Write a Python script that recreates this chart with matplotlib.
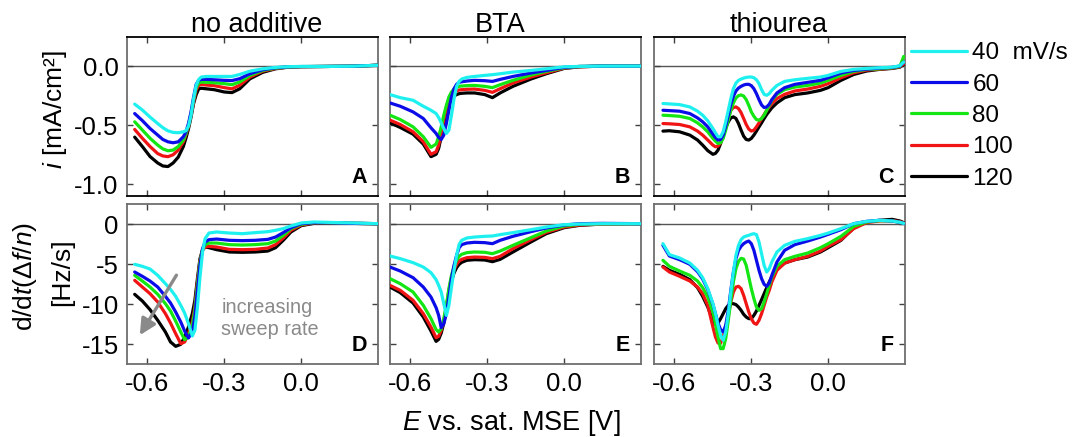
import matplotlib
matplotlib.use("Agg")
import matplotlib.pyplot as plt

plt.rcParams['font.family'] = ['Liberation Sans', 'DejaVu Sans']
plt.rcParams['axes.unicode_minus'] = False
plt.rcParams['mathtext.fontset'] = 'custom'
plt.rcParams['mathtext.rm'] = 'Liberation Sans'
plt.rcParams['mathtext.it'] = 'Liberation Sans:italic'

# ---------------- data ----------------
rates = [40, 60, 80, 100, 120]
rate_labels = ["40  mV/s", "60", "80", "100", "120"]
colors = ["#1ef0f0", "#0c0ce8", "#14e614", "#f01414", "#000000"]
titles = ["no additive", "BTA", "thiourea"]
letters_top = ["A", "B", "C"]
letters_bot = ["D", "E", "F"]

# Panel A / D : no additive
E_A = [-0.65, -0.62, -0.59, -0.56, -0.54, -0.52, -0.50, -0.48, -0.46, -0.45, -0.44, -0.43, -0.42, -0.41,
       -0.40, -0.39, -0.37, -0.34, -0.30, -0.27, -0.24, -0.20, -0.15, -0.10, -0.05, 0.0, 0.1, 0.2, 0.3]
iA_40 = [-0.32, -0.37, -0.43, -0.485, -0.52, -0.547, -0.56, -0.563, -0.555, -0.546, -0.507, -0.414, -0.273, -0.16,
         -0.11, -0.09, -0.085, -0.085, -0.085, -0.085, -0.068, -0.04, -0.02, -0.008, -0.002, 0.0, 0.0, 0.002, 0.01]
iA_60 = [-0.40, -0.46, -0.527, -0.583, -0.62, -0.64, -0.648, -0.64, -0.597, -0.555, -0.485, -0.386, -0.26, -0.152,
         -0.118, -0.11, -0.11, -0.113, -0.118, -0.12, -0.104, -0.062, -0.028, -0.011, -0.003, -0.001, 0.0, 0.002, 0.01]
iA_80 = [-0.47, -0.54, -0.61, -0.668, -0.70, -0.716, -0.71, -0.68, -0.625, -0.57, -0.50, -0.40, -0.28, -0.18,
         -0.14, -0.132, -0.135, -0.138, -0.146, -0.155, -0.132, -0.076, -0.034, -0.014, -0.004, -0.001, 0.0, 0.002, 0.01]
iA_100 = [-0.535, -0.61, -0.68, -0.74, -0.76, -0.766, -0.75, -0.71, -0.64, -0.58, -0.51, -0.41, -0.30, -0.20,
          -0.16, -0.152, -0.158, -0.163, -0.18, -0.19, -0.16, -0.09, -0.04, -0.017, -0.005, -0.002, 0.0, 0.002, 0.01]
iA_120 = [-0.60, -0.68, -0.765, -0.82, -0.845, -0.85, -0.82, -0.77, -0.68, -0.61, -0.53, -0.43, -0.315, -0.24,
          -0.19, -0.185, -0.19, -0.197, -0.217, -0.222, -0.19, -0.105, -0.05, -0.02, -0.006, -0.002, 0.0, 0.002, 0.01]

E_D = [-0.65, -0.62, -0.59, -0.56, -0.53, -0.51, -0.49, -0.47, -0.455, -0.44, -0.425, -0.415, -0.405, -0.395,
       -0.385, -0.375, -0.36, -0.33, -0.28, -0.23, -0.18, -0.13, -0.10, -0.07, -0.04, 0.0, 0.05, 0.1, 0.2, 0.3]
fD_40 = [-5.04, -5.29, -5.63, -6.42, -7.46, -8.17, -9.04, -10.17, -11.13, -12.46, -14.0, -13.29, -10.38, -6.63,
         -3.5, -1.83, -1.13, -1.0, -1.13, -1.21, -1.08, -0.96, -0.79, -0.58, -0.25, 0.13, 0.25, 0.21, 0.13, 0.04]
fD_60 = [-6.0, -6.54, -7.13, -7.88, -9.04, -9.88, -11.0, -12.25, -13.38, -14.25, -13.5, -11.63, -8.29, -5.17,
         -3.08, -2.25, -1.96, -1.88, -2.04, -2.08, -2.04, -1.92, -1.63, -1.08, -0.46, 0.04, 0.17, 0.17, 0.08, 0.04]
fD_80 = [-6.42, -7.13, -7.88, -8.79, -9.96, -10.88, -12.13, -13.5, -14.46, -14.13, -12.67, -10.79, -7.67, -4.75,
         -3.21, -2.58, -2.38, -2.38, -2.58, -2.63, -2.58, -2.46, -2.13, -1.42, -0.58, -0.04, 0.17, 0.17, 0.08, 0.04]
fD_100 = [-7.04, -7.88, -8.71, -9.75, -11.21, -12.38, -13.71, -14.96, -14.75, -13.71, -12.25, -10.38, -7.25, -4.54,
          -3.29, -2.88, -2.79, -2.88, -3.17, -3.21, -3.17, -3.0, -2.58, -1.75, -0.79, -0.13, 0.13, 0.17, 0.08, 0.04]
fD_120 = [-8.79, -9.63, -10.71, -12.04, -13.5, -14.75, -15.29, -15.04, -14.13, -12.88, -11.21, -9.54, -6.83, -4.33,
          -3.21, -2.88, -2.96, -3.21, -3.5, -3.54, -3.5, -3.38, -2.96, -2.04, -1.0, -0.21, 0.08, 0.17, 0.08, 0.04]

# Panel B / E : BTA
E_B = [-0.68, -0.64, -0.59, -0.55, -0.52, -0.50, -0.49, -0.48, -0.47, -0.46, -0.45, -0.44, -0.43, -0.42,
       -0.41, -0.40, -0.38, -0.35, -0.31, -0.28, -0.25, -0.20, -0.13, -0.07, 0.0, 0.06, 0.15, 0.3]
iB_40 = [-0.239, -0.265, -0.287, -0.338, -0.372, -0.40, -0.434, -0.479, -0.527, -0.569, -0.541, -0.414, -0.273, -0.169,
         -0.127, -0.107, -0.093, -0.085, -0.076, -0.07, -0.062, -0.048, -0.034, -0.02, -0.003, 0.0, 0.003, 0.003]
iB_60 = [-0.31, -0.338, -0.386, -0.442, -0.521, -0.569, -0.603, -0.62, -0.583, -0.485, -0.372, -0.259, -0.189, -0.152,
         -0.135, -0.13, -0.124, -0.118, -0.121, -0.127, -0.11, -0.085, -0.056, -0.034, -0.008, 0.0, 0.003, 0.003]
iB_80 = [-0.414, -0.451, -0.513, -0.597, -0.687, -0.659, -0.597, -0.513, -0.414, -0.33, -0.259, -0.217, -0.192, -0.177,
         -0.169, -0.166, -0.163, -0.161, -0.169, -0.18, -0.155, -0.118, -0.073, -0.042, -0.011, 0.0, 0.003, 0.003]
iB_100 = [-0.456, -0.493, -0.555, -0.639, -0.746, -0.724, -0.668, -0.569, -0.456, -0.358, -0.287, -0.245, -0.223, -0.208,
          -0.2, -0.197, -0.194, -0.192, -0.203, -0.22, -0.189, -0.141, -0.09, -0.054, -0.014, -0.003, 0.003, 0.003]
iB_120 = [-0.479, -0.518, -0.575, -0.659, -0.766, -0.746, -0.696, -0.597, -0.485, -0.386, -0.315, -0.273, -0.251, -0.239,
          -0.231, -0.228, -0.225, -0.225, -0.239, -0.265, -0.225, -0.169, -0.107, -0.062, -0.017, -0.003, 0.003, 0.003]

E_E = E_B
fE_40 = [-4.0, -4.33, -4.83, -5.38, -6.08, -6.96, -7.67, -8.5, -9.96, -11.42, -10.17, -7.88, -5.79, -3.92,
         -2.54, -2.04, -1.75, -1.63, -1.54, -1.5, -1.33, -1.08, -0.71, -0.38, -0.08, 0.0, 0.04, 0.04]
fE_60 = [-5.38, -5.88, -6.71, -7.88, -9.13, -10.46, -11.42, -12.96, -12.46, -11.21, -9.13, -6.83, -5.17, -3.92,
         -2.96, -2.58, -2.38, -2.29, -2.33, -2.46, -2.04, -1.54, -0.96, -0.5, -0.13, 0.04, 0.08, 0.04]
fE_80 = [-6.83, -7.46, -8.5, -10.17, -11.83, -13.21, -13.5, -13.08, -11.83, -10.17, -8.08, -6.42, -5.29, -4.54,
         -4.04, -3.79, -3.58, -3.5, -3.54, -3.71, -3.38, -2.67, -1.71, -0.88, -0.25, -0.04, 0.04, 0.04]
fE_100 = [-7.67, -8.29, -9.54, -11.21, -12.88, -14.21, -14.04, -13.29, -12.04, -10.38, -8.29, -6.71, -5.71, -5.04,
          -4.63, -4.42, -4.21, -4.13, -4.17, -4.33, -4.04, -3.08, -1.96, -1.04, -0.38, -0.13, 0.0, 0.04]
fE_120 = [-7.88, -8.58, -9.88, -11.63, -13.38, -14.67, -14.42, -13.63, -12.38, -10.71, -8.71, -7.13, -6.13, -5.46,
          -5.04, -4.79, -4.54, -4.46, -4.5, -4.71, -4.42, -3.5, -2.25, -1.21, -0.46, -0.17, 0.0, 0.04]

# Panel C / F : thiourea
E_C = [-0.645, -0.62, -0.58, -0.54, -0.51, -0.49, -0.47, -0.45,
       -0.44, -0.43, -0.42, -0.41, -0.40, -0.39, -0.38, -0.37, -0.36, -0.35, -0.34, -0.33, -0.32, -0.31, -0.30,
       -0.29, -0.28, -0.27, -0.26, -0.25, -0.24, -0.23, -0.22,
       -0.20, -0.17, -0.13, -0.08, -0.03, 0.0, 0.05, 0.1, 0.15, 0.2, 0.25, 0.28, 0.295]
iC_40 = [-0.315, -0.318, -0.324, -0.344, -0.380, -0.414, -0.462, -0.527,
         -0.563, -0.597, -0.597, -0.555, -0.470, -0.372, -0.273, -0.189, -0.141, -0.118, -0.107, -0.099, -0.093, -0.090,
         -0.090, -0.096, -0.113, -0.146, -0.197, -0.237, -0.245, -0.231, -0.203,
         -0.161, -0.127, -0.113, -0.101, -0.090, -0.076, -0.042, -0.025, -0.017, -0.011, -0.006, 0.006, 0.037]
iC_60 = [-0.372, -0.375, -0.380, -0.4, -0.437, -0.470, -0.513, -0.575,
         -0.603, -0.625, -0.620, -0.583, -0.507, -0.414, -0.321, -0.254, -0.208, -0.183, -0.169, -0.158, -0.152, -0.152,
         -0.163, -0.189, -0.231, -0.282, -0.327, -0.349, -0.344, -0.321, -0.282,
         -0.225, -0.180, -0.152, -0.135, -0.118, -0.096, -0.056, -0.034, -0.023, -0.014, -0.008, 0.003, 0.037]
iC_80 = [-0.414, -0.417, -0.423, -0.442, -0.479, -0.513, -0.555, -0.611,
         -0.634, -0.654, -0.648, -0.611, -0.541, -0.456, -0.372, -0.310, -0.268, -0.248, -0.242, -0.251, -0.282, -0.330,
         -0.386, -0.423, -0.451, -0.456, -0.442, -0.414, -0.372, -0.330, -0.287,
         -0.237, -0.197, -0.175, -0.161, -0.141, -0.118, -0.076, -0.042, -0.025, -0.020, -0.011, 0.0, 0.085]
iC_100 = [-0.485, -0.487, -0.493, -0.513, -0.549, -0.583, -0.625, -0.668,
          -0.682, -0.676, -0.648, -0.592, -0.513, -0.434, -0.372, -0.349, -0.344, -0.358, -0.392, -0.442, -0.493, -0.532,
          -0.549, -0.541, -0.513, -0.479, -0.442, -0.408, -0.372, -0.344, -0.315,
          -0.273, -0.237, -0.208, -0.192, -0.169, -0.146, -0.096, -0.054, -0.031, -0.023, -0.014, -0.003, 0.023]
iC_120 = [-0.549, -0.546, -0.555, -0.583, -0.625, -0.668, -0.715, -0.746,
          -0.738, -0.710, -0.654, -0.583, -0.521, -0.470, -0.437, -0.428, -0.442, -0.485, -0.541, -0.592, -0.620, -0.625,
          -0.611, -0.583, -0.549, -0.513, -0.479, -0.442, -0.408, -0.380, -0.352,
          -0.310, -0.265, -0.239, -0.225, -0.203, -0.180, -0.118, -0.068, -0.039, -0.025, -0.017, -0.006, 0.017]

E_F = E_C
fF_40 = [-2.46, -3.83, -4.25, -4.88, -5.79, -6.71, -8.08, -9.96,
         -11.21, -12.67, -13.92, -14.54, -13.5, -11.21, -8.5, -6.0, -3.92, -2.67, -1.96, -1.63, -1.5, -1.42,
         -1.29, -1.21, -1.33, -2.25, -3.71, -5.17, -6.0, -5.58, -4.75,
         -3.5, -2.67, -2.17, -1.83, -1.42, -1.13, -0.58, 0.04, 0.33, 0.46, 0.38, 0.21, 0.08]
fF_60 = [-2.67, -4.0, -4.46, -5.04, -5.96, -6.88, -8.21, -10.04,
         -11.21, -12.38, -13.21, -13.5, -12.67, -10.79, -8.29, -6.0, -4.33, -3.29, -2.79, -2.46, -2.25, -2.13,
         -2.46, -3.29, -4.54, -5.79, -6.83, -7.54, -7.79, -7.38, -6.42,
         -4.75, -3.29, -2.58, -2.13, -1.63, -1.29, -0.71, 0.04, 0.33, 0.46, 0.38, 0.21, 0.08]
fF_80 = [-4.54, -5.29, -5.88, -6.42, -7.13, -7.96, -9.13, -11.0,
         -12.46, -14.13, -15.58, -15.58, -14.33, -12.04, -9.54, -7.25, -5.58, -4.67, -4.29, -4.38, -5.17, -6.63,
         -8.08, -9.33, -10.38, -10.79, -10.58, -9.75, -8.71, -7.67, -6.63,
         -5.29, -4.46, -4.04, -3.63, -2.96, -2.46, -1.54, -0.29, 0.25, 0.42, 0.38, 0.21, 0.08]
fF_100 = [-5.38, -6.0, -6.54, -7.13, -7.88, -8.71, -10.17, -12.88,
          -14.13, -14.88, -14.88, -14.13, -12.88, -11.42, -9.75, -8.5, -7.88, -7.79, -8.08, -8.92, -9.96, -11.0,
          -11.83, -12.38, -12.54, -12.04, -11.21, -10.17, -9.13, -8.29, -7.25,
          -5.79, -4.88, -4.46, -4.04, -3.38, -2.79, -1.96, -0.58, 0.17, 0.38, 0.42, 0.29, 0.13]
fF_120 = [-5.29, -5.79, -6.29, -6.96, -7.96, -9.04, -10.38, -12.04,
          -12.58, -12.38, -11.83, -11.21, -10.58, -10.17, -9.96, -9.96, -10.08, -10.38, -10.79, -11.29, -11.63, -11.83,
          -11.83, -11.42, -10.88, -10.17, -9.46, -8.71, -7.96, -7.25, -6.63,
          -5.67, -4.88, -4.46, -4.13, -3.5, -2.96, -2.04, -0.46, 0.25, 0.46, 0.58, 0.38, 0.17]

top_x = [E_A, E_B, E_C]
top_y = [[iA_40, iA_60, iA_80, iA_100, iA_120],
         [iB_40, iB_60, iB_80, iB_100, iB_120],
         [iC_40, iC_60, iC_80, iC_100, iC_120]]
bot_x = [E_D, E_E, E_F]
bot_y = [[fD_40, fD_60, fD_80, fD_100, fD_120],
         [fE_40, fE_60, fE_80, fE_100, fE_120],
         [fF_40, fF_60, fF_80, fF_100, fF_120]]

xticks = [-0.6, -0.3, 0.0]
xticklabels = ["-0.6", "-0.3", "0.0"]
top_yticks = [0.0, -0.5, -1.0]
top_yticklabels = ["0.0", "-0.5", "-1.0"]
bot_yticks = [0, -5, -10, -15]
bot_yticklabels = ["0", "-5", "-10", "-15"]

# ---------------- figure ----------------
W, H = 1078, 437
fig = plt.figure(figsize=(W / 100, H / 100), dpi=100)

lefts = [127, 390, 654]
ax_w = 251
top_y0, top_y1 = 37, 196
bot_y0, bot_y1 = 204, 364

FS = 18.5
spine_gray = "#6e6e6e"
LW = 2.3


def fx(px):
    return px / W


def fy(py):
    return 1 - py / H


def style(ax, bottom_labels, left_labels, yt, ytl):
    ax.set_xlim(-0.68, 0.3)
    ax.set_xticks(xticks)
    ax.set_yticks(yt)
    ax.tick_params(direction="in", length=4, width=1, top=True, right=True,
                   labelsize=FS, pad=6, color="#404040")
    if bottom_labels:
        ax.set_xticklabels(xticklabels)
    else:
        ax.set_xticklabels([])
    if left_labels:
        ax.set_yticklabels(ytl)
    else:
        ax.set_yticklabels([])
    for s in ax.spines.values():
        s.set_color(spine_gray)
        s.set_linewidth(1.3)
    ax.axhline(0, color="#555555", lw=1.0, zorder=1)


legend_handles = []
for k in range(3):
    ax = fig.add_axes([fx(lefts[k]), fy(top_y1), fx(ax_w), (top_y1 - top_y0) / H])
    style(ax, False, k == 0, top_yticks, top_yticklabels)
    ax.set_ylim(-1.1, 0.25)
    ax.spines["top"].set_color("black")
    ax.spines["bottom"].set_color("black")
    handles = []
    for j in range(4, -1, -1):
        h, = ax.plot(top_x[k], top_y[k][j], color=colors[j], lw=LW, zorder=3 + (4 - j),
                     solid_joinstyle="round", solid_capstyle="round")
        handles.append(h)
    if k == 2:
        legend_handles = handles[::-1]
    ax.text(1 - 11 / ax_w, 13 / (top_y1 - top_y0), letters_top[k], transform=ax.transAxes,
            ha="right", va="baseline", fontsize=15.5, fontweight="bold")

bot_axes = []
for k in range(3):
    ax = fig.add_axes([fx(lefts[k]), fy(bot_y1), fx(ax_w), (bot_y1 - bot_y0) / H])
    style(ax, True, k == 0, bot_yticks, bot_yticklabels)
    ax.set_ylim(-17.5, 2.5)
    for j in range(4, -1, -1):
        ax.plot(bot_x[k], bot_y[k][j], color=colors[j], lw=LW, zorder=3 + (4 - j),
                solid_joinstyle="round", solid_capstyle="round")
    ax.text(1 - 11 / ax_w, 13 / (bot_y1 - bot_y0), letters_bot[k], transform=ax.transAxes,
            ha="right", va="baseline", fontsize=15.5, fontweight="bold")
    bot_axes.append(ax)

# arrow and annotation in panel D
axD = bot_axes[0]
axD.annotate("", xy=(-0.63, -13.9), xytext=(-0.487, -6.4),
             arrowprops=dict(arrowstyle="-|>", color="#8a8a8a", lw=2.4, mutation_scale=24,
                             shrinkA=0, shrinkB=0), zorder=10)
axD.text(-0.312, -11.8, "increasing\nsweep rate", color="#8a8a8a", fontsize=14.3,
         ha="left", va="center", linespacing=1.25, zorder=10)

# titles
title_x = [256.7, 500, 779]
for k in range(3):
    fig.text(fx(title_x[k]), fy(32.5), titles[k], ha="center", va="baseline", fontsize=19.5)

# axis labels
fig.text(fx(55), fy(110), r"$i$ [mA/cm²]", rotation=90, ha="center", va="center", fontsize=19)
fig.text(fx(25), fy(277), r"d/d$t$($\Delta f$/$n$)", rotation=90, ha="center", va="center", fontsize=19)
fig.text(fx(62), fy(272), "[Hz/s]", rotation=90, ha="center", va="center", fontsize=19)
fig.text(fx(511), fy(430), r"$E$ vs. sat. MSE [V]", ha="center", va="baseline", fontsize=19.5)

# legend
fig.legend(legend_handles, rate_labels, loc="upper left", bbox_to_anchor=(fx(911), fy(42)),
           frameon=False, fontsize=17.5, handlelength=2.3, handletextpad=0.22,
           labelspacing=0.39, borderpad=0, borderaxespad=0)

fig.savefig("out.png", dpi=100)
